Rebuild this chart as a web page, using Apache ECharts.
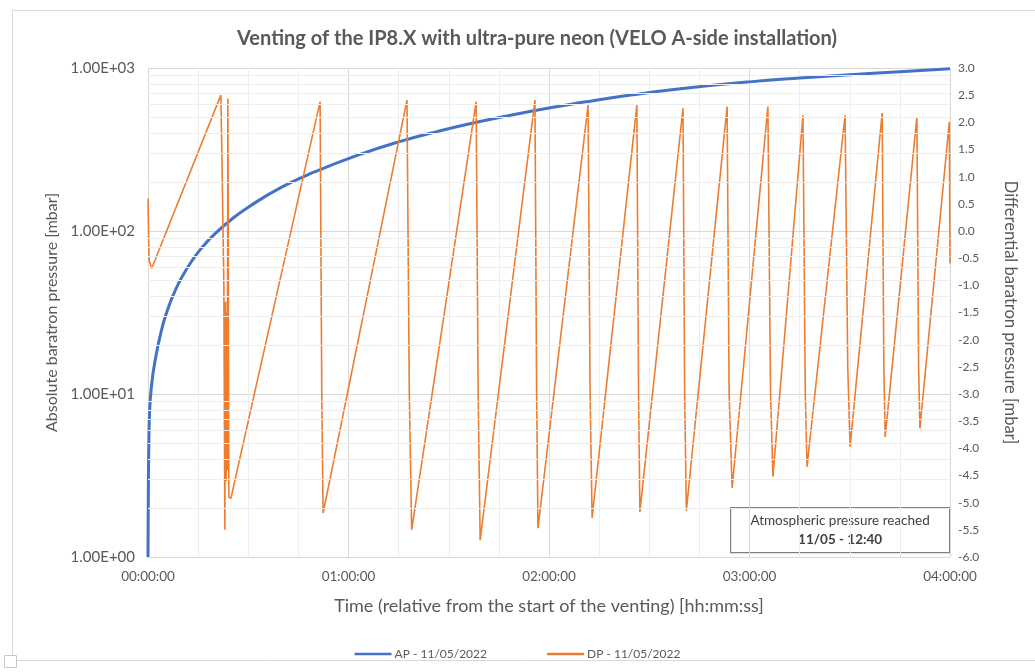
<!DOCTYPE html>
<html>
<head>
<meta charset="utf-8">
<title>Venting of the IP8.X with ultra-pure neon</title>
<script src="https://cdn.jsdelivr.net/npm/echarts@6/dist/echarts.min.js"></script>
<style>
  html, body { margin: 0; padding: 0; background: #ffffff; }
  #chart { width: 1035px; height: 672px; }
</style>
</head>
<body>
<div id="chart"></div>
<script>
// Absolute pressure (AP), minutes since start of venting -> mbar
const apMinutes = [0, 0.1, 0.25, 0.5, 1, 2, 4, 6, 8, 10, 13, 16, 20, 25, 30, 40, 50, 62.4, 75, 87, 97, 115, 131, 145, 160, 180, 195, 209, 225, 240];
const apMbar    = [1.0, 2.5, 5, 8, 11, 15.5, 24.5, 33.5, 42.5, 51.5, 65, 78.5, 96, 118, 140, 186, 231, 290, 352, 410, 458, 545, 620, 685, 748, 822, 868, 906, 950, 990];

// Differential pressure (DP), minutes since start of venting -> mbar
const dpMinutes = [0, 0.3, 1.1,
  21.8, 22.1, 22.7, 23.0, 23.2, 23.4, 23.5, 23.7, 23.9, 24.2, 24.8,
  51.5, 52.0, 52.4, 77.5, 78.2, 78.9, 98.2, 98.8, 99.4, 115.8, 116.3, 116.7,
  131.7, 132.3, 132.9, 146.3, 146.8, 147.2, 160.1, 160.6, 161.1, 173.3, 173.9, 174.8,
  185.5, 186.3, 187.0, 196.0, 196.7, 197.2, 208.6, 209.4, 210.1, 219.7, 220.2, 220.6,
  230.1, 230.6, 231.0, 239.8, 240.0];
const dpMbar = [0.60, -0.53, -0.69,
  2.50, 1.46, -1.0, -5.50, -1.3, -4.6, -1.5, -4.4, 2.44, -4.9, -4.92,
  2.38, -3.0, -5.19, 2.41, -3.0, -5.50, 2.38, -3.0, -5.69, 2.41, -3.0, -5.47,
  2.32, -3.0, -5.28, 2.32, -3.0, -5.17, 2.26, -3.0, -5.15, 2.29, -3.0, -4.73,
  2.29, -3.0, -4.52, 2.13, -3.0, -4.34, 2.13, -2.5, -3.97, 2.17, -2.5, -3.79,
  2.10, -2.5, -3.63, 2.01, -0.6];

// Time axis tick labels, one per hour
const timeTickLabels = ['00:00:00', '01:00:00', '02:00:00', '03:00:00', '04:00:00'];

const seriesNames = ['AP - 11/05/2022', 'DP - 11/05/2022'];
const noteLines = ['Atmospheric pressure reached', '11/05 - 12:40'];

const FONT = 'Lato, "Liberation Sans", sans-serif';
const TXT = '#595959';
const BLUE = '#4472C4';
const ORANGE = '#ED7D31';

// Log-scale minor grid values: 2..9 x 10^n within each decade
const logMinor = [];
[1, 10, 100].forEach(d => { for (let k = 2; k <= 9; k++) logMinor.push(k * d); });

const chart = echarts.init(document.getElementById('chart'), null, { renderer: 'canvas' });

const fmtSci = v => {
  const e = Math.round(Math.log10(v));
  const m = v / Math.pow(10, e);
  const sign = e < 0 ? '-' : '+';
  return m.toFixed(2) + 'E' + sign + String(Math.abs(e)).padStart(2, '0');
};

chart.setOption({
  animation: false,
  backgroundColor: '#ffffff',
  textStyle: { fontFamily: FONT },
  title: {
    text: 'Venting of the IP8.X with ultra-pure neon (VELO A-side installation)',
    left: 532,
    top: 24,
    textAlign: 'center',
    textStyle: { fontFamily: FONT, fontSize: 20, fontWeight: 'bold', color: TXT }
  },
  legend: {
    data: [
      { name: seriesNames[0], icon: 'rect', itemStyle: { color: BLUE } },
      { name: seriesNames[1], icon: 'rect', itemStyle: { color: ORANGE } }
    ],
    left: 'center',
    top: 643,
    itemWidth: 37,
    itemHeight: 2.5,
    itemGap: 60,
    textStyle: { fontFamily: FONT, fontSize: 12, color: TXT, padding: [0, 0, 0, -2] }
  },
  grid: { left: 148, right: 85, top: 68, bottom: 115, containLabel: false },
  xAxis: {
    type: 'value',
    min: 0,
    max: 240,
    interval: 60,
    name: 'Time (relative from the start of the venting) [hh:mm:ss]',
    nameLocation: 'middle',
    nameGap: 40,
    nameTextStyle: { fontFamily: FONT, fontSize: 18, color: TXT },
    axisLine: { show: true, lineStyle: { color: '#d9d9d9', width: 1 } },
    axisTick: { show: false },
    axisLabel: {
      margin: 13,
      fontFamily: FONT, fontSize: 13.5, color: TXT,
      formatter: v => timeTickLabels[Math.round(v / 60)]
    },
    splitLine: { show: true, lineStyle: { color: '#d9d9d9', width: 1 } },
    minorTick: { show: false, splitNumber: 4 },
    minorSplitLine: { show: true, lineStyle: { color: '#eeeeee', width: 1 } }
  },
  yAxis: [
    {
      type: 'log',
      logBase: 10,
      min: 1,
      max: 1000,
      position: 'left',
      name: 'Absolute baratron pressure [mbar]',
      nameLocation: 'middle',
      nameRotate: 90,
      nameGap: 83,
      nameTextStyle: { fontFamily: FONT, fontSize: 16, color: TXT },
      axisLine: { show: false },
      axisTick: { show: false },
      axisLabel: { margin: 13, fontFamily: FONT, fontSize: 15, color: TXT, formatter: fmtSci },
      splitLine: { show: true, lineStyle: { color: '#d9d9d9', width: 1 } }
    },
    {
      type: 'value',
      min: -6,
      max: 3,
      interval: 0.5,
      position: 'right',
      name: 'Differential baratron pressure [mbar]',
      nameLocation: 'middle',
      nameRotate: -90,
      nameGap: 52,
      nameTextStyle: { fontFamily: FONT, fontSize: 16.5, color: TXT },
      axisLine: { show: false },
      axisTick: { show: false },
      axisLabel: { margin: 8, fontFamily: FONT, fontSize: 12, color: TXT, formatter: v => v.toFixed(1) },
      splitLine: { show: false }
    }
  ],
  series: [
    {
      // carrier for the log minor gridlines
      type: 'line',
      name: 'grid-minor',
      yAxisIndex: 0,
      data: [[0, 1]],
      showSymbol: false,
      silent: true,
      lineStyle: { opacity: 0 },
      z: 1,
      markLine: {
        silent: true,
        symbol: ['none', 'none'],
        label: { show: false },
        emphasis: { disabled: true },
        lineStyle: { color: '#eeeeee', width: 1, type: 'solid' },
        data: logMinor.map(v => ({ yAxis: v }))
      }
    },
    {
      type: 'line',
      name: seriesNames[0],
      yAxisIndex: 0,
      data: apMinutes.map((t, i) => [t, apMbar[i]]),
      showSymbol: false,
      smooth: 0.5,
      lineStyle: { color: BLUE, width: 3 },
      itemStyle: { color: BLUE },
      z: 3
    },
    {
      type: 'line',
      name: seriesNames[1],
      yAxisIndex: 1,
      data: dpMinutes.map((t, i) => [t, dpMbar[i]]),
      showSymbol: false,
      lineStyle: { color: ORANGE, width: 1.6 },
      itemStyle: { color: ORANGE },
      z: 4
    }
  ],
  graphic: [
    {
      type: 'rect',
      shape: { x: 12.5, y: 10.5, width: 1040, height: 650 },
      style: { fill: null, stroke: '#d9d9d9', lineWidth: 1 },
      silent: true, z: 0
    },
    {
      type: 'rect',
      shape: { x: 4.5, y: 655.5, width: 12, height: 12 },
      style: { fill: '#ffffff', stroke: '#c8c8c8', lineWidth: 1 },
      silent: true, z: 10
    },
    {
      type: 'group',
      left: 730,
      top: 507,
      z: 20,
      children: [
        {
          type: 'rect',
          shape: { x: 0.5, y: 0.5, width: 219, height: 45 },
          style: { fill: '#ffffff', stroke: '#7f7f7f', lineWidth: 1.2 }
        },
        {
          type: 'text',
          x: 110, y: 14,
          style: { text: noteLines[0], align: 'center', verticalAlign: 'middle',
                   fontFamily: FONT, fontSize: 13.5, fill: '#404040' }
        },
        {
          type: 'text',
          x: 110, y: 33,
          style: { text: noteLines[1], align: 'center', verticalAlign: 'middle',
                   fontFamily: FONT, fontSize: 13.5, fontWeight: 'bold', fill: '#404040' }
        }
      ]
    }
  ]
});
</script>
</body>
</html>
